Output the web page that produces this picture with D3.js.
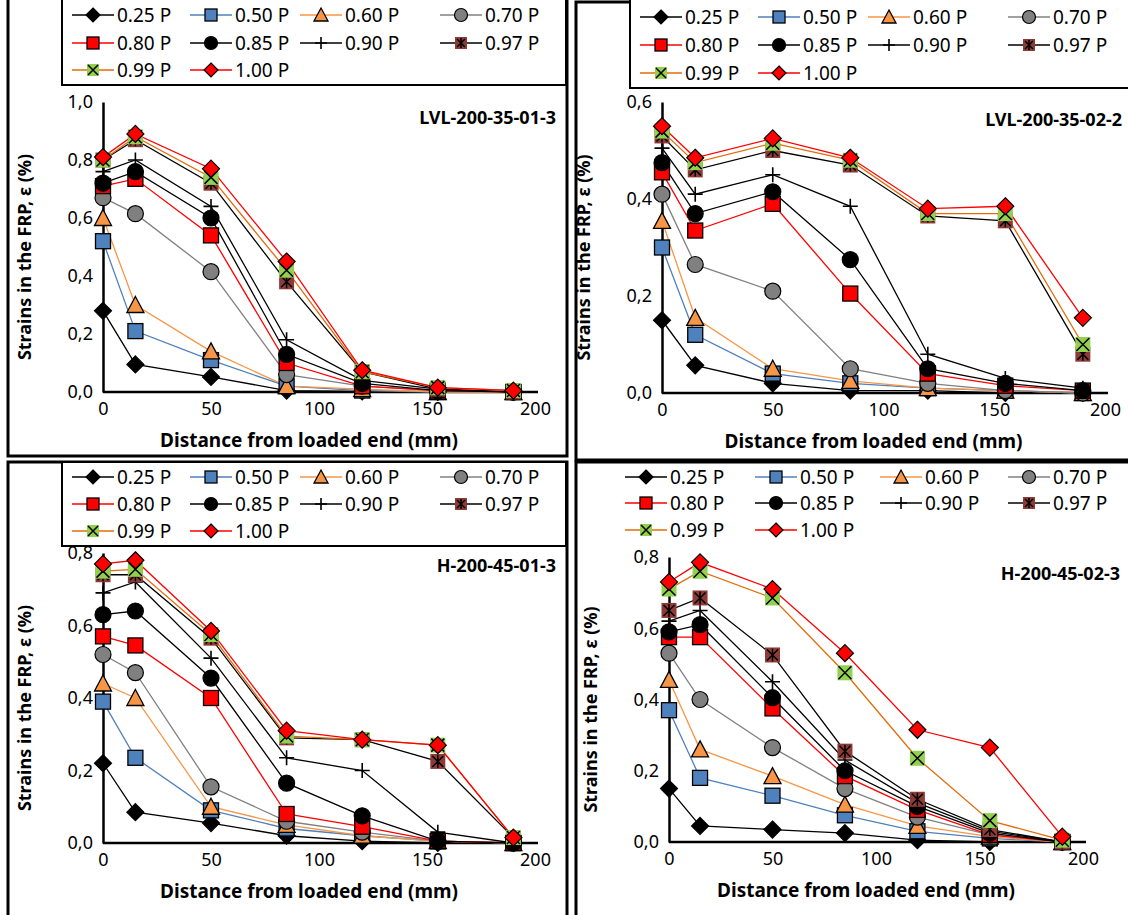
<!DOCTYPE html>
<html><head><meta charset="utf-8">
<script src="https://cdn.jsdelivr.net/npm/d3@7"></script>
<style>body{margin:0;background:#fff}text{font-family:"Noto Sans",sans-serif}</style>
</head><body><div class="chart"></div>
<script>
let dist = [0, 15, 50, 85, 120, 155, 190];
let loads = ["0.25 P","0.50 P","0.60 P","0.70 P","0.80 P","0.85 P","0.90 P","0.97 P","0.99 P","1.00 P"];

let lvl01 = [
  [0.28,0.095,0.052,0.005,0.002,0,0],
  [0.52,0.21,0.11,0.02,0.005,0,0],
  [0.60,0.30,0.14,0.02,0.01,0,0],
  [0.67,0.615,0.415,0.06,0.02,0.005,0],
  [0.71,0.735,0.54,0.10,0.02,0.005,0],
  [0.72,0.76,0.60,0.13,0.03,0.005,0],
  [0.76,0.80,0.64,0.18,0.04,0.01,0],
  [0.80,0.87,0.72,0.38,0.07,0.01,0],
  [0.80,0.88,0.74,0.42,0.07,0.015,0.005],
  [0.81,0.89,0.77,0.45,0.075,0.015,0.005]];
let lvl02 = [
  [0.15,0.057,0.02,0.005,0.005,0,0],
  [0.30,0.12,0.04,0.02,0.01,0.005,0],
  [0.355,0.155,0.05,0.025,0.01,0.005,0],
  [0.41,0.265,0.21,0.05,0.02,0.005,0],
  [0.455,0.335,0.39,0.205,0.04,0.015,0.005],
  [0.475,0.37,0.415,0.275,0.05,0.02,0.005],
  [0.505,0.41,0.45,0.385,0.08,0.03,0.01],
  [0.53,0.46,0.50,0.47,0.365,0.355,0.08],
  [0.54,0.475,0.515,0.48,0.37,0.37,0.10],
  [0.55,0.485,0.525,0.485,0.38,0.385,0.155]];
let h01 = [
  [0.22,0.085,0.055,0.02,0.005,0,0],
  [0.39,0.235,0.09,0.04,0.02,0.005,0],
  [0.44,0.40,0.10,0.05,0.02,0.005,0],
  [0.52,0.47,0.155,0.06,0.03,0.005,0],
  [0.57,0.545,0.40,0.08,0.045,0.005,0],
  [0.63,0.64,0.455,0.165,0.075,0.005,0],
  [0.69,0.72,0.51,0.235,0.20,0.03,0],
  [0.74,0.74,0.565,0.29,0.285,0.225,0.015],
  [0.75,0.755,0.575,0.295,0.285,0.27,0.015],
  [0.77,0.78,0.585,0.31,0.285,0.27,0.015]];
let h02 = [
  [0.15,0.045,0.035,0.025,0.005,0,0],
  [0.37,0.18,0.13,0.075,0.03,0.01,0],
  [0.455,0.26,0.185,0.105,0.045,0.015,0],
  [0.53,0.40,0.265,0.15,0.07,0.02,0],
  [0.575,0.575,0.375,0.185,0.09,0.02,0],
  [0.59,0.61,0.405,0.20,0.10,0.025,0],
  [0.62,0.65,0.45,0.23,0.11,0.03,0],
  [0.65,0.685,0.525,0.255,0.12,0.035,0],
  [0.71,0.76,0.685,0.475,0.235,0.06,0.005],
  [0.73,0.785,0.71,0.53,0.315,0.265,0.015]];

// line colour, marker shape, marker fill
let styles = [
  {line:"#000", shape:"diamond", fill:"#000"},
  {line:"#4f81bd", shape:"square", fill:"#4f81bd"},
  {line:"#f79646", shape:"triangle", fill:"#f79646"},
  {line:"#808080", shape:"circle", fill:"#808080"},
  {line:"#ff0000", shape:"square", fill:"#ff0000"},
  {line:"#000", shape:"circle", fill:"#000"},
  {line:"#000", shape:"plus", fill:"none"},
  {line:"#000", shape:"star", fill:"#8e3b38"},
  {line:"#e46c0a", shape:"x", fill:"#92d050"},
  {line:"#ff0000", shape:"diamond", fill:"#ff0000"}];

let svg = d3.select(".chart").append("svg").attr("width",1128).attr("height",915);

function marker(g, x, y, st, s) {
  let h = s/2;
  if (st.shape === "square") {
    g.append("rect").attr("x",x-h).attr("y",y-h).attr("width",s).attr("height",s)
      .attr("fill",st.fill).attr("stroke","#000").attr("stroke-width",1.3);
  } else if (st.shape === "diamond") {
    g.append("path").attr("d",`M${x},${y-h-1}L${x+h+1},${y}L${x},${y+h+1}L${x-h-1},${y}Z`)
      .attr("fill",st.fill).attr("stroke","#000").attr("stroke-width",1.2);
  } else if (st.shape === "triangle") {
    g.append("path").attr("d",`M${x},${y-h-1}L${x+h+1},${y+h}L${x-h-1},${y+h}Z`)
      .attr("fill",st.fill).attr("stroke","#000").attr("stroke-width",1.3);
  } else if (st.shape === "circle") {
    g.append("circle").attr("cx",x).attr("cy",y).attr("r",h+0.5)
      .attr("fill",st.fill).attr("stroke","#000").attr("stroke-width",1.2);
  } else if (st.shape === "plus") {
    g.append("path").attr("d",`M${x-h},${y}H${x+h}M${x},${y-h}V${y+h}`)
      .attr("stroke","#000").attr("stroke-width",1.6);
  } else if (st.shape === "star") {
    g.append("rect").attr("x",x-h).attr("y",y-h).attr("width",s).attr("height",s).attr("fill",st.fill);
    g.append("path").attr("d",`M${x-h+2},${y-h+2}L${x+h-2},${y+h-2}M${x+h-2},${y-h+2}L${x-h+2},${y+h-2}M${x},${y-h+1}V${y+h-1}`)
      .attr("stroke","#000").attr("stroke-width",1.5);
  } else if (st.shape === "x") {
    g.append("rect").attr("x",x-h).attr("y",y-h).attr("width",s).attr("height",s).attr("fill",st.fill);
    g.append("path").attr("d",`M${x-h+1},${y-h+1}L${x+h-1},${y+h-1}M${x+h-1},${y-h+1}L${x-h+1},${y+h-1}`)
      .attr("stroke","#000").attr("stroke-width",1.5);
  }
}

function drawPanel(p) {
  let g = svg.append("g");
  g.append("rect").attr("x",p.frame[0]).attr("y",p.frame[1]).attr("width",p.frame[2]).attr("height",p.frame[3])
    .attr("fill","#fff").attr("stroke","#000").attr("stroke-width",3);

  let x = d3.scaleLinear().domain([0,200]).range([p.x0, p.x1]);
  let y = d3.scaleLinear().domain([0,p.ymax]).range([p.y0, p.y1]);

  let xAxis = g.append("g").attr("transform",`translate(0,${p.y0})`)
    .call(d3.axisBottom(x).tickValues([0,50,100,150,200]).tickSize(0).tickPadding(10));
  xAxis.select(".domain").attr("stroke-width",2.5).attr("d",`M${p.x0},0H${p.x1+3}`);
  let yAxis = g.append("g").attr("transform",`translate(${p.x0},0)`)
    .call(d3.axisLeft(y).ticks(p.ymax/0.2).tickSize(0).tickPadding(10).tickFormat(d => d3.format(".1f")(d).replace(".",",")));
  yAxis.select(".domain").attr("stroke-width",2.5);
  g.selectAll(".tick text").attr("font-size",18).attr("fill","#000").style("font-family","Noto Sans");

  g.append("text").attr("x",(p.x0+p.x1)/2 - 10).attr("y",p.y0+55).attr("text-anchor","middle")
    .attr("font-size",19).attr("font-weight","bold").text("Distance from loaded end (mm)");
  g.append("text").attr("transform",`translate(${p.x0-72},${(p.y0+p.y1)/2+10}) rotate(-90)`)
    .attr("text-anchor","middle").attr("font-size",18).attr("font-weight","bold").text("Strains in the FRP, ε (%)");
  g.append("text").attr("x",p.titleX).attr("y",p.titleY).attr("text-anchor","end")
    .attr("font-size",18).attr("font-weight","bold").text(p.title);

  let line = d3.line().x((d,i) => x(dist[i])).y(d => y(d));
  p.data.forEach((s,k) => {
    g.append("path").datum(s).attr("d",line).attr("fill","none")
      .attr("stroke",styles[k].line).attr("stroke-width",1.3);
  });
  p.data.forEach((s,k) => {
    s.forEach((v,i) => marker(g, x(dist[i]), y(v), styles[k], 15));
  });

  // legend
  let L = p.legend;
  if (L.box) g.append("rect").attr("x",L.x).attr("y",L.y).attr("width",L.w).attr("height",L.h)
    .attr("fill","#fff").attr("stroke","#000").attr("stroke-width",2);
  loads.forEach((name,k) => {
    let lx = L.cols[k % 4], ly = L.rows[Math.floor(k/4)];
    g.append("line").attr("x1",lx).attr("x2",lx+42).attr("y1",ly).attr("y2",ly)
      .attr("stroke",styles[k].line).attr("stroke-width",1.3);
    marker(g, lx+21, ly, styles[k], 12);
    g.append("text").attr("x",lx+45).attr("y",ly+7).attr("font-size",19).text(name);
  });
}

drawPanel({frame:[8,-3,559,459], x0:103, x1:535, y0:392, y1:102, ymax:1.0, data:lvl01,
  title:"LVL-200-35-01-3", titleX:556, titleY:124,
  legend:{box:true, x:62, y:-2, w:504, h:87, cols:[72,190,300,440], rows:[15,43,70]}});
drawPanel({frame:[576,2,560,458], x0:662, x1:1105, y0:393, y1:102, ymax:0.6, data:lvl02,
  title:"LVL-200-35-02-2", titleX:1122, titleY:126,
  legend:{box:true, x:630, y:-2, w:500, h:90, cols:[640,758,868,1008], rows:[17,45,73]}});
drawPanel({frame:[8,462,559,460], x0:103, x1:535, y0:843, y1:553, ymax:0.8, data:h01,
  title:"H-200-45-01-3", titleX:556, titleY:572,
  legend:{box:true, x:62, y:462, w:504, h:84, cols:[72,190,300,440], rows:[477,504,531]}});
drawPanel({frame:[576,462,560,460], x0:669, x1:1083, y0:842, y1:557, ymax:0.8, data:h02,
  title:"H-200-45-02-3", titleX:1120, titleY:580,
  legend:{box:false, cols:[625,755,880,1008], rows:[477,503,530]}});
</script>
</body></html>
